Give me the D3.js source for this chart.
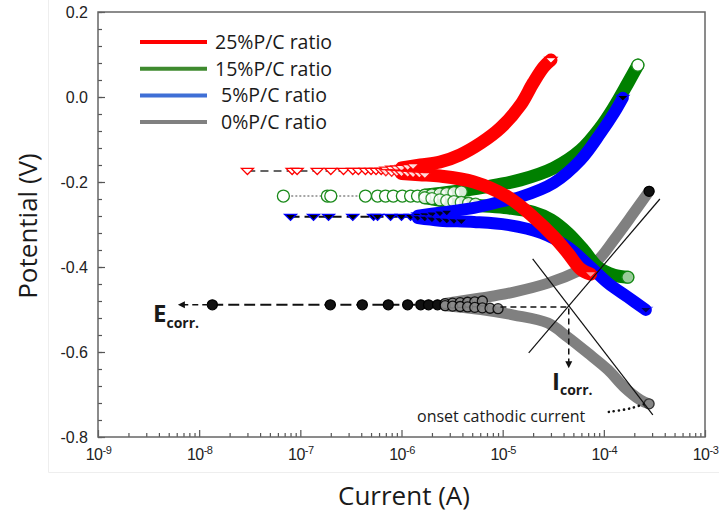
<!DOCTYPE html>
<html>
<head>
<meta charset="utf-8">
<script src="https://cdn.jsdelivr.net/npm/d3@7"></script>
<style>
  body { margin: 0; background: #fff; }
  svg { display: block; }
</style>
</head>
<body>
<svg id="chart" width="719" height="515"></svg>
<script>
// series: [current (A), potential (V)]
var seriesNames = ['25%P/C ratio', '15%P/C ratio', '5%P/C ratio', '0%P/C ratio']

var ecorrRed = -0.174
var flatRed = [3.0e-8, 8.3e-8, 9.3e-8, 1.47e-7, 2.0e-7, 2.67e-7, 3.3e-7, 3.75e-7, 4.4e-7, 5.0e-7, 5.6e-7, 6.3e-7]
var denseRed = [[7e-7, -0.171], [8e-7, -0.169], [9e-7, -0.168], [1.0e-6, -0.167], [1.15e-6, -0.165], [1.3e-6, -0.163],
  [7e-7, -0.177], [8e-7, -0.178], [9e-7, -0.179], [1.0e-6, -0.180], [1.15e-6, -0.181], [1.3e-6, -0.182],
  [1.5e-6, -0.183], [1.7e-6, -0.184]]
var anodicRed = [[1.0e-6, -0.167], [1.54e-6, -0.160], [2.4e-6, -0.153], [3.8e-6, -0.136], [6.1e-6, -0.108],
  [9.5e-6, -0.073], [1.5e-5, -0.019], [2.0e-5, 0.033], [2.55e-5, 0.071], [3.0e-5, 0.087]]
var cathodicRed = [[1.0e-6, -0.180], [1.5e-6, -0.183], [2.4e-6, -0.186], [5.2e-6, -0.200], [1.12e-5, -0.235],
  [2.0e-5, -0.282], [3.2e-5, -0.329], [4.4e-5, -0.367], [5.9e-5, -0.405], [7.4e-5, -0.417]]

var ecorrGreen = -0.233
var flatGreen = [6.8e-8, 1.85e-7, 2.0e-7, 4.4e-7, 5.8e-7, 6.95e-7, 8.3e-7, 1.02e-6, 1.23e-6, 1.44e-6]
var denseGreen = [[1.7e-6, -0.231], [2.0e-6, -0.230], [2.4e-6, -0.228], [2.8e-6, -0.227], [3.3e-6, -0.225], [3.9e-6, -0.223],
  [1.7e-6, -0.237], [2.0e-6, -0.239], [2.4e-6, -0.242], [2.8e-6, -0.244], [3.3e-6, -0.246], [3.9e-6, -0.248],
  [4.6e-6, -0.250], [5.4e-6, -0.252]]
var anodicGreen = [[1.7e-6, -0.231], [2.4e-6, -0.227], [5.2e-6, -0.216], [7.1e-6, -0.211], [1.5e-5, -0.195],
  [3.2e-5, -0.167], [5.9e-5, -0.125], [9.3e-5, -0.071], [1.26e-4, -0.024], [1.73e-4, 0.033], [2.17e-4, 0.075]]
var cathodicGreen = [[1.7e-6, -0.237], [2.4e-6, -0.243], [5.2e-6, -0.254], [1.12e-5, -0.261], [2.0e-5, -0.271],
  [3.0e-5, -0.289], [4.4e-5, -0.320], [6.3e-5, -0.360], [8.7e-5, -0.400], [1.26e-4, -0.419], [1.73e-4, -0.424]]

var ecorrBlue = -0.282
var flatBlue = [8.0e-8, 1.35e-7, 1.9e-7, 3.3e-7, 5.3e-7, 5.8e-7, 7.8e-7, 1.0e-6, 1.23e-6]
var denseBlue = [[1.45e-6, -0.279], [1.7e-6, -0.278], [2.0e-6, -0.276], [2.4e-6, -0.274], [2.8e-6, -0.272],
  [1.45e-6, -0.285], [1.7e-6, -0.286], [2.0e-6, -0.288], [2.4e-6, -0.290], [2.8e-6, -0.291], [3.3e-6, -0.292], [3.9e-6, -0.293]]
var anodicBlue = [[1.45e-6, -0.279], [2.4e-6, -0.272], [5.2e-6, -0.261], [1.12e-5, -0.242], [1.5e-5, -0.235],
  [3.2e-5, -0.202], [5.9e-5, -0.148], [9.3e-5, -0.085], [1.26e-4, -0.038], [1.54e-4, -0.002]]
var cathodicBlue = [[1.45e-6, -0.285], [2.4e-6, -0.291], [5.2e-6, -0.294], [1.12e-5, -0.301], [2.4e-5, -0.320],
  [4.4e-5, -0.353], [7.4e-5, -0.400], [1.1e-4, -0.438], [1.73e-4, -0.471], [2.6e-4, -0.501]]

var ecorrGray = -0.489
var flatGray = [1.35e-8, 1.98e-7, 4.1e-7, 7.4e-7, 1.15e-6, 1.55e-6, 1.85e-6, 2.27e-6]
var denseGray = [[2.7e-6, -0.486], [3.2e-6, -0.485], [3.8e-6, -0.484], [4.5e-6, -0.483], [5.3e-6, -0.482], [6.3e-6, -0.480],
  [2.7e-6, -0.491], [3.2e-6, -0.492], [3.8e-6, -0.493], [4.5e-6, -0.494], [5.3e-6, -0.495], [6.3e-6, -0.496],
  [7.5e-6, -0.497], [9.0e-6, -0.498]]
var anodicGray = [[2.7e-6, -0.486], [6.1e-6, -0.473], [1.29e-5, -0.459], [2.8e-5, -0.438], [5.9e-5, -0.407],
  [8.7e-5, -0.384], [1.26e-4, -0.336], [1.85e-4, -0.282], [2.8e-4, -0.222]]
var cathodicGray = [[2.7e-6, -0.491], [6.1e-6, -0.500], [1.29e-5, -0.513], [2.8e-5, -0.532], [4.4e-5, -0.565],
  [6.9e-5, -0.602], [1.1e-4, -0.642], [1.58e-4, -0.682], [2.3e-4, -0.713], [2.8e-4, -0.722]]

// Tafel extrapolation annotations
var tangentAnodic = [[1.81e-5, -0.602], [3.58e-4, -0.240]]
var tangentCathodic = [[1.98e-5, -0.381], [3.05e-4, -0.748]]
var icorrGuide = [[9.5e-6, -0.494], [4.5e-5, -0.494], [4.5e-5, -0.636]]
var ecorrArrow = [[1.23e-8, -0.489], [6.3e-9, -0.489]]
var onsetLeader = [[1.12e-4, -0.741], [1.8e-4, -0.733], [2.6e-4, -0.721]]

var xTickExps = [-9, -8, -7, -6, -5, -4, -3]
var yTicks = [0.2, 0.0, -0.2, -0.4, -0.6, -0.8]

var svg = d3.select('#chart')
var plotLeft = 98, plotTop = 12, plotRight = 705, plotBottom = 437

var x = d3.scaleLog().domain([1e-9, 1e-3]).range([plotLeft, plotRight])
var y = d3.scaleLinear().domain([-0.8, 0.2]).range([plotBottom, plotTop])

// faint page frame
svg.append('path')
  .attr('d', 'M48.5,0V472.5H719')
  .attr('fill', 'none')
  .attr('stroke', '#eeeeee')
  .attr('stroke-width', 1)

// axes
var minorX = []
xTickExps.slice(0, -1).forEach(function(e) {
  for (var k = 2; k <= 9; k++) minorX.push(k * Math.pow(10, e))
})
var minorY = d3.range(-0.8, 0.2001, 0.04)

var tickColor = '#555'
svg.append('g')
  .attr('transform', 'translate(0,' + plotBottom + ')')
  .call(d3.axisBottom(x).tickValues(minorX).tickSize(-4).tickSizeOuter(0).tickFormat(''))
  .call(function(g) { g.select('.domain').remove() })
  .selectAll('line').attr('stroke', tickColor).attr('stroke-width', 1.2)

var xAxis = svg.append('g')
  .attr('transform', 'translate(0,' + plotBottom + ')')
  .call(d3.axisBottom(x)
    .tickValues(xTickExps.map(function(e) { return Math.pow(10, e) }))
    .tickSize(-7).tickSizeOuter(0).tickPadding(12).tickFormat(''))
xAxis.select('.domain').remove()
xAxis.selectAll('line').attr('stroke', tickColor).attr('stroke-width', 1.2)
xAxis.selectAll('text')
  .attr('font-family', 'Liberation Sans, Arial, sans-serif')
  .attr('font-size', 16)
  .attr('fill', '#222')
  .attr('letter-spacing', -0.5)
  .each(function(d) {
    var t = d3.select(this)
    t.append('tspan').text('10')
    t.append('tspan').attr('font-size', 11).attr('dy', -6).text(Math.round(Math.log10(d)))
  })

svg.append('g')
  .attr('transform', 'translate(' + plotLeft + ',0)')
  .call(d3.axisLeft(y).tickValues(minorY).tickSize(-4).tickSizeOuter(0).tickFormat(''))
  .call(function(g) { g.select('.domain').remove() })
  .selectAll('line').attr('stroke', tickColor).attr('stroke-width', 1.2)

var yAxis = svg.append('g')
  .attr('transform', 'translate(' + plotLeft + ',0)')
  .call(d3.axisLeft(y).tickValues(yTicks).tickSize(-7).tickSizeOuter(0).tickPadding(10)
    .tickFormat(function(d) { return d.toFixed(1) }))
yAxis.select('.domain').remove()
yAxis.selectAll('line').attr('stroke', tickColor).attr('stroke-width', 1.2)
yAxis.selectAll('text')
  .attr('font-family', 'Liberation Sans, Arial, sans-serif')
  .attr('font-size', 16)
  .attr('fill', '#222')

svg.append('rect')
  .attr('x', plotLeft).attr('y', plotTop)
  .attr('width', plotRight - plotLeft).attr('height', plotBottom - plotTop)
  .attr('fill', 'none')
  .attr('stroke', '#666')
  .attr('stroke-width', 1.5)

svg.append('text')
  .attr('transform', 'translate(37,226) rotate(-90)')
  .attr('text-anchor', 'middle')
  .attr('font-family', 'Open Sans, sans-serif')
  .attr('font-size', 26)
  .attr('fill', '#1a1a1a')
  .text('Potential (V)')

svg.append('text')
  .attr('x', 404).attr('y', 505)
  .attr('text-anchor', 'middle')
  .attr('font-family', 'Open Sans, sans-serif')
  .attr('font-size', 26)
  .attr('fill', '#1a1a1a')
  .text('Current (A)')

// markers
function triDown(s) {
  var h = s * 0.85
  return 'M' + (-s) + ',' + (-h / 2) + 'L' + s + ',' + (-h / 2) + 'L0,' + (h / 2 + 1) + 'Z'
}
var markerStyles = {
  red: { shape: 'tri', fill: '#fff', stroke: '#ff0000', denseFill: '#fff' },
  green: { shape: 'circle', fill: '#fff', stroke: '#1a8a1a', denseFill: '#fff' },
  blue: { shape: 'tri', fill: '#000', stroke: '#0000ff', denseFill: '#000' },
  gray: { shape: 'circle', fill: '#111', stroke: '#000', denseFill: '#8a8a8a' }
}

var plot = svg.append('g')
var bandLine = d3.line()
  .x(function(d) { return x(d[0]) })
  .y(function(d) { return y(d[1]) })
  .curve(d3.curveCatmullRom.alpha(0.5))

function drawMarkers(g, pts, st, fill, opacity) {
  pts.forEach(function(p) {
    var el = st.shape === 'tri'
      ? g.append('path').attr('d', triDown(6))
      : g.append('circle').attr('r', st.stroke === '#000' ? 5 : 6)
    el.attr('transform', 'translate(' + x(p[0]) + ',' + y(p[1]) + ')')
      .attr('fill', fill)
      .attr('stroke', st.stroke)
      .attr('stroke-width', 1.3)
      .attr('opacity', opacity)
  })
}

function drawSeries(cfg) {
  var g = plot.append('g')
  var st = markerStyles[cfg.key]
  var flatPts = cfg.flat.map(function(c) { return [c, cfg.ecorr] })
  g.append('path')
    .attr('d', bandLine(flatPts))
    .attr('fill', 'none')
    .attr('stroke', cfg.dashColor)
    .attr('stroke-width', cfg.dashWidth)
    .attr('stroke-dasharray', cfg.dash)
  ;[cfg.anodic, cfg.cathodic].forEach(function(branch) {
    g.append('path')
      .attr('d', bandLine(branch))
      .attr('fill', 'none')
      .attr('stroke', cfg.color)
      .attr('stroke-width', cfg.width)
      .attr('stroke-linecap', 'round')
  })
  drawMarkers(g, flatPts, st, st.fill, 1)
  drawMarkers(g, cfg.dense, st, st.denseFill, 0.85)
  drawMarkers(g, [cfg.anodic[cfg.anodic.length - 1]], st, st.fill, 1)
  drawMarkers(g, [cfg.cathodic[cfg.cathodic.length - 1]], st, st.denseFill, 0.6)
}

drawSeries({ key: 'gray', color: '#808080', width: 11, ecorr: ecorrGray, flat: flatGray, dense: denseGray,
  anodic: anodicGray, cathodic: cathodicGray, dashColor: '#111', dashWidth: 2, dash: '11,5' })
drawSeries({ key: 'green', color: '#008000', width: 13, ecorr: ecorrGreen, flat: flatGreen, dense: denseGreen,
  anodic: anodicGreen, cathodic: cathodicGreen, dashColor: '#888', dashWidth: 1.5, dash: '2,2' })
drawSeries({ key: 'blue', color: '#0000ff', width: 12, ecorr: ecorrBlue, flat: flatBlue, dense: denseBlue,
  anodic: anodicBlue, cathodic: cathodicBlue, dashColor: '#111', dashWidth: 2, dash: '9,5' })
drawSeries({ key: 'red', color: '#ff0000', width: 13, ecorr: ecorrRed, flat: flatRed, dense: denseRed,
  anodic: anodicRed, cathodic: cathodicRed, dashColor: '#333', dashWidth: 1.5, dash: '8,5' })

// annotations
var ann = svg.append('g').attr('stroke', '#111').attr('fill', 'none')
;[tangentAnodic, tangentCathodic].forEach(function(t) {
  ann.append('line')
    .attr('x1', x(t[0][0])).attr('y1', y(t[0][1]))
    .attr('x2', x(t[1][0])).attr('y2', y(t[1][1]))
    .attr('stroke-width', 1.2)
})
ann.append('path')
  .attr('d', d3.line()(icorrGuide.map(function(p) { return [x(p[0]), y(p[1])] })))
  .attr('stroke-width', 1.5)
  .attr('stroke-dasharray', '6,4')
var ix = x(icorrGuide[2][0]), iy = y(icorrGuide[2][1])
ann.append('path')
  .attr('d', 'M' + (ix - 3.5) + ',' + (iy - 6) + 'L' + (ix + 3.5) + ',' + (iy - 6) + 'L' + ix + ',' + (iy + 1) + 'Z')
  .attr('fill', '#111')
  .attr('stroke', 'none')

var ex1 = x(ecorrArrow[0][0]), ex2 = x(ecorrArrow[1][0]), ey = y(ecorrArrow[0][1])
ann.append('line')
  .attr('x1', ex1).attr('y1', ey).attr('x2', ex2 + 5).attr('y2', ey)
  .attr('stroke-width', 1.5)
  .attr('stroke-dasharray', '6,4')
ann.append('path')
  .attr('d', 'M' + (ex2 + 6) + ',' + (ey - 3.5) + 'L' + (ex2 + 6) + ',' + (ey + 3.5) + 'L' + (ex2 - 1) + ',' + ey + 'Z')
  .attr('fill', '#111')
  .attr('stroke', 'none')

ann.append('path')
  .attr('d', d3.line().curve(d3.curveCatmullRom)(onsetLeader.map(function(p) { return [x(p[0]), y(p[1])] })))
  .attr('stroke-width', 2.6)
  .attr('stroke-linecap', 'round')
  .attr('stroke-dasharray', '0.1,5')

var labelFont = 'Open Sans, sans-serif'
var ecorrText = svg.append('text')
  .attr('x', 153).attr('y', 322)
  .attr('font-family', labelFont).attr('font-weight', 'bold')
  .attr('font-size', 24).attr('fill', '#1a1a1a')
ecorrText.append('tspan').text('E')
ecorrText.append('tspan').attr('font-size', 14).attr('dy', 6).text('corr.')

var icorrText = svg.append('text')
  .attr('x', 552).attr('y', 390)
  .attr('font-family', labelFont).attr('font-weight', 'bold')
  .attr('font-size', 24).attr('fill', '#1a1a1a')
icorrText.append('tspan').text('I')
icorrText.append('tspan').attr('font-size', 14).attr('dy', 5).text('corr.')

svg.append('text')
  .attr('x', 417).attr('y', 422)
  .attr('font-family', labelFont)
  .attr('font-size', 16).attr('fill', '#1a1a1a')
  .text('onset cathodic current')

// legend
var legendColors = ['#ff0000', '#3e8a2e', '#3f6fd6', '#808080']
var legendX = [215, 215, 221, 221]
var legend = svg.append('g')
seriesNames.forEach(function(name, i) {
  var ly = 42 + i * 26.7
  legend.append('line')
    .attr('x1', 140).attr('x2', 207)
    .attr('y1', ly).attr('y2', ly)
    .attr('stroke', legendColors[i])
    .attr('stroke-width', 4)
  legend.append('text')
    .attr('x', legendX[i]).attr('y', ly + 7)
    .attr('font-family', labelFont)
    .attr('font-size', 19.5)
    .attr('fill', '#1a1a1a')
    .text(name)
})
</script>
</body>
</html>
